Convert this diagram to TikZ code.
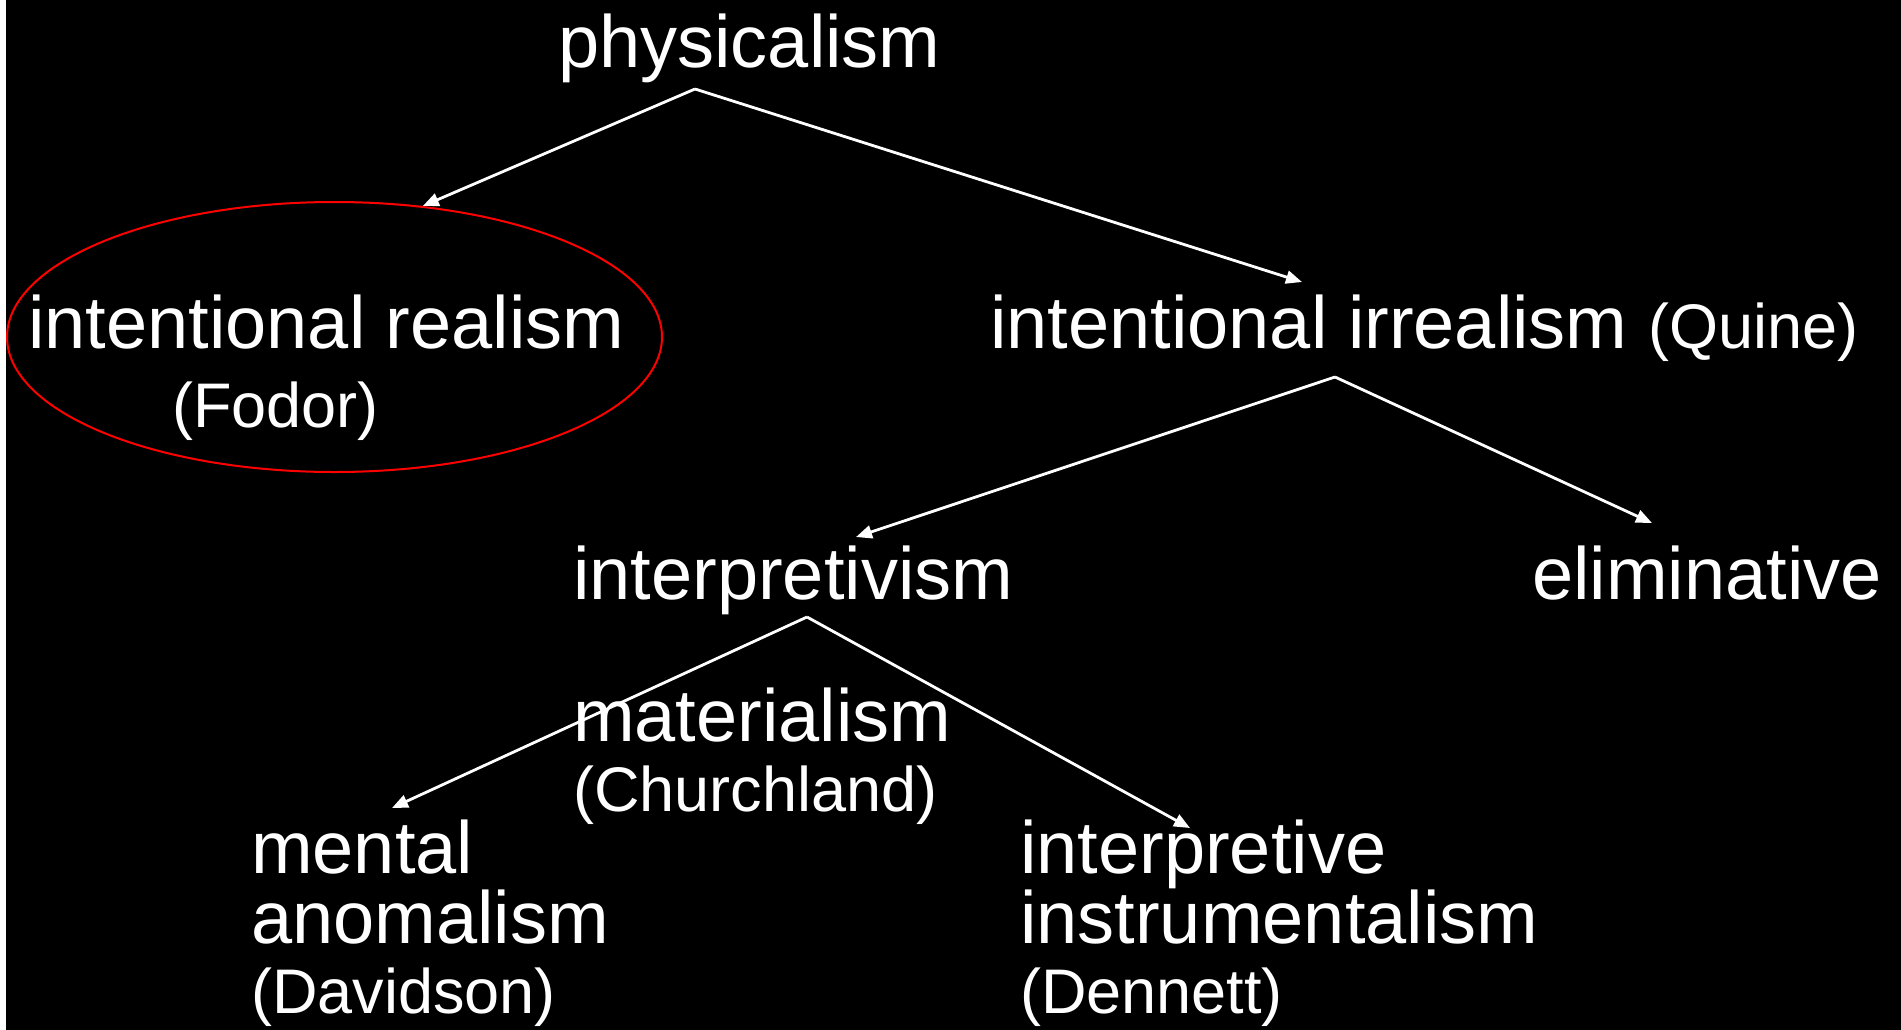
\documentclass[tikz,border=0pt]{standalone}
\usepackage{fontspec}
\setmainfont{Liberation Sans}
\usetikzlibrary{shapes.geometric,arrows.meta}
\newcommand{\whoname}[1]{{\fontsize{63}{70}\selectfont #1}}
\tikzset{
  term/.style={anchor=base west, inner sep=0pt, text=white, align=left,
               font=\fontsize{74}{70}\selectfont},
  who/.style={anchor=base west, inner sep=0pt, text=white,
              font=\fontsize{63}{70}\selectfont},
  arr/.style={-{Triangle[length=16pt,width=13pt]}, line width=2.8pt, white},
}
\begin{document}
\begin{tikzpicture}[x=1pt, y=-1pt,
    ring/.style={ellipse, draw=red, line width=2pt, minimum width=655pt,
                 minimum height=270pt, inner sep=0pt}
  ]
    \useasboundingbox (0,0) rectangle (1901,1029);
    \fill[black] (-10,-10) rectangle (1911,1039);
    \fill[white] (-10,-10) rectangle (6,1039);
    \node[ring] (ring) at (334.5,337) {};
    \node[term] (phys)   at (558,67)  {physicalism};
    \node[term] (real)   at (28,348)  {intentional realism};
    \node[who]  (fodor)  at (172,427) {(Fodor)};
    \node[term] (irr)    at (990,348) {intentional irrealism \whoname{(Quine)}};
    \node[term] (interp) at (573,599) {interpretivism};
    \node[term] (elim)   at (1532,599) {eliminative};
    \node[term] (mat)    at (573,811) {materialism\\\whoname{(Churchland)}};
    \node[term] (anom)   at (251,1013) {mental\\anomalism\\\whoname{(Davidson)}};
    \node[term] (instr)  at (1020,1013) {interpretive\\instrumentalism\\\whoname{(Dennett)}};
    \coordinate (physfork)   at (695,89);
    \coordinate (irrfork)    at (1335,377);
    \coordinate (interpfork) at (807,617);
    \coordinate (irrtip)     at (1302,282);
    \coordinate (interptip)  at (856,537);
    \coordinate (elimtip)    at (1652,523);
    \coordinate (anomtip)    at (392,808);
    \coordinate (instrtip)   at (1190,828);
    \draw[arr] (physfork)--(ring.56);
    \draw[arr] (physfork)--(irrtip);
    \draw[arr] (irrfork)--(interptip);
    \draw[arr] (irrfork)--(elimtip);
    \draw[arr] (interpfork)--(anomtip);
    \draw[arr] (interpfork)--(instrtip);
\end{tikzpicture}
\end{document}
